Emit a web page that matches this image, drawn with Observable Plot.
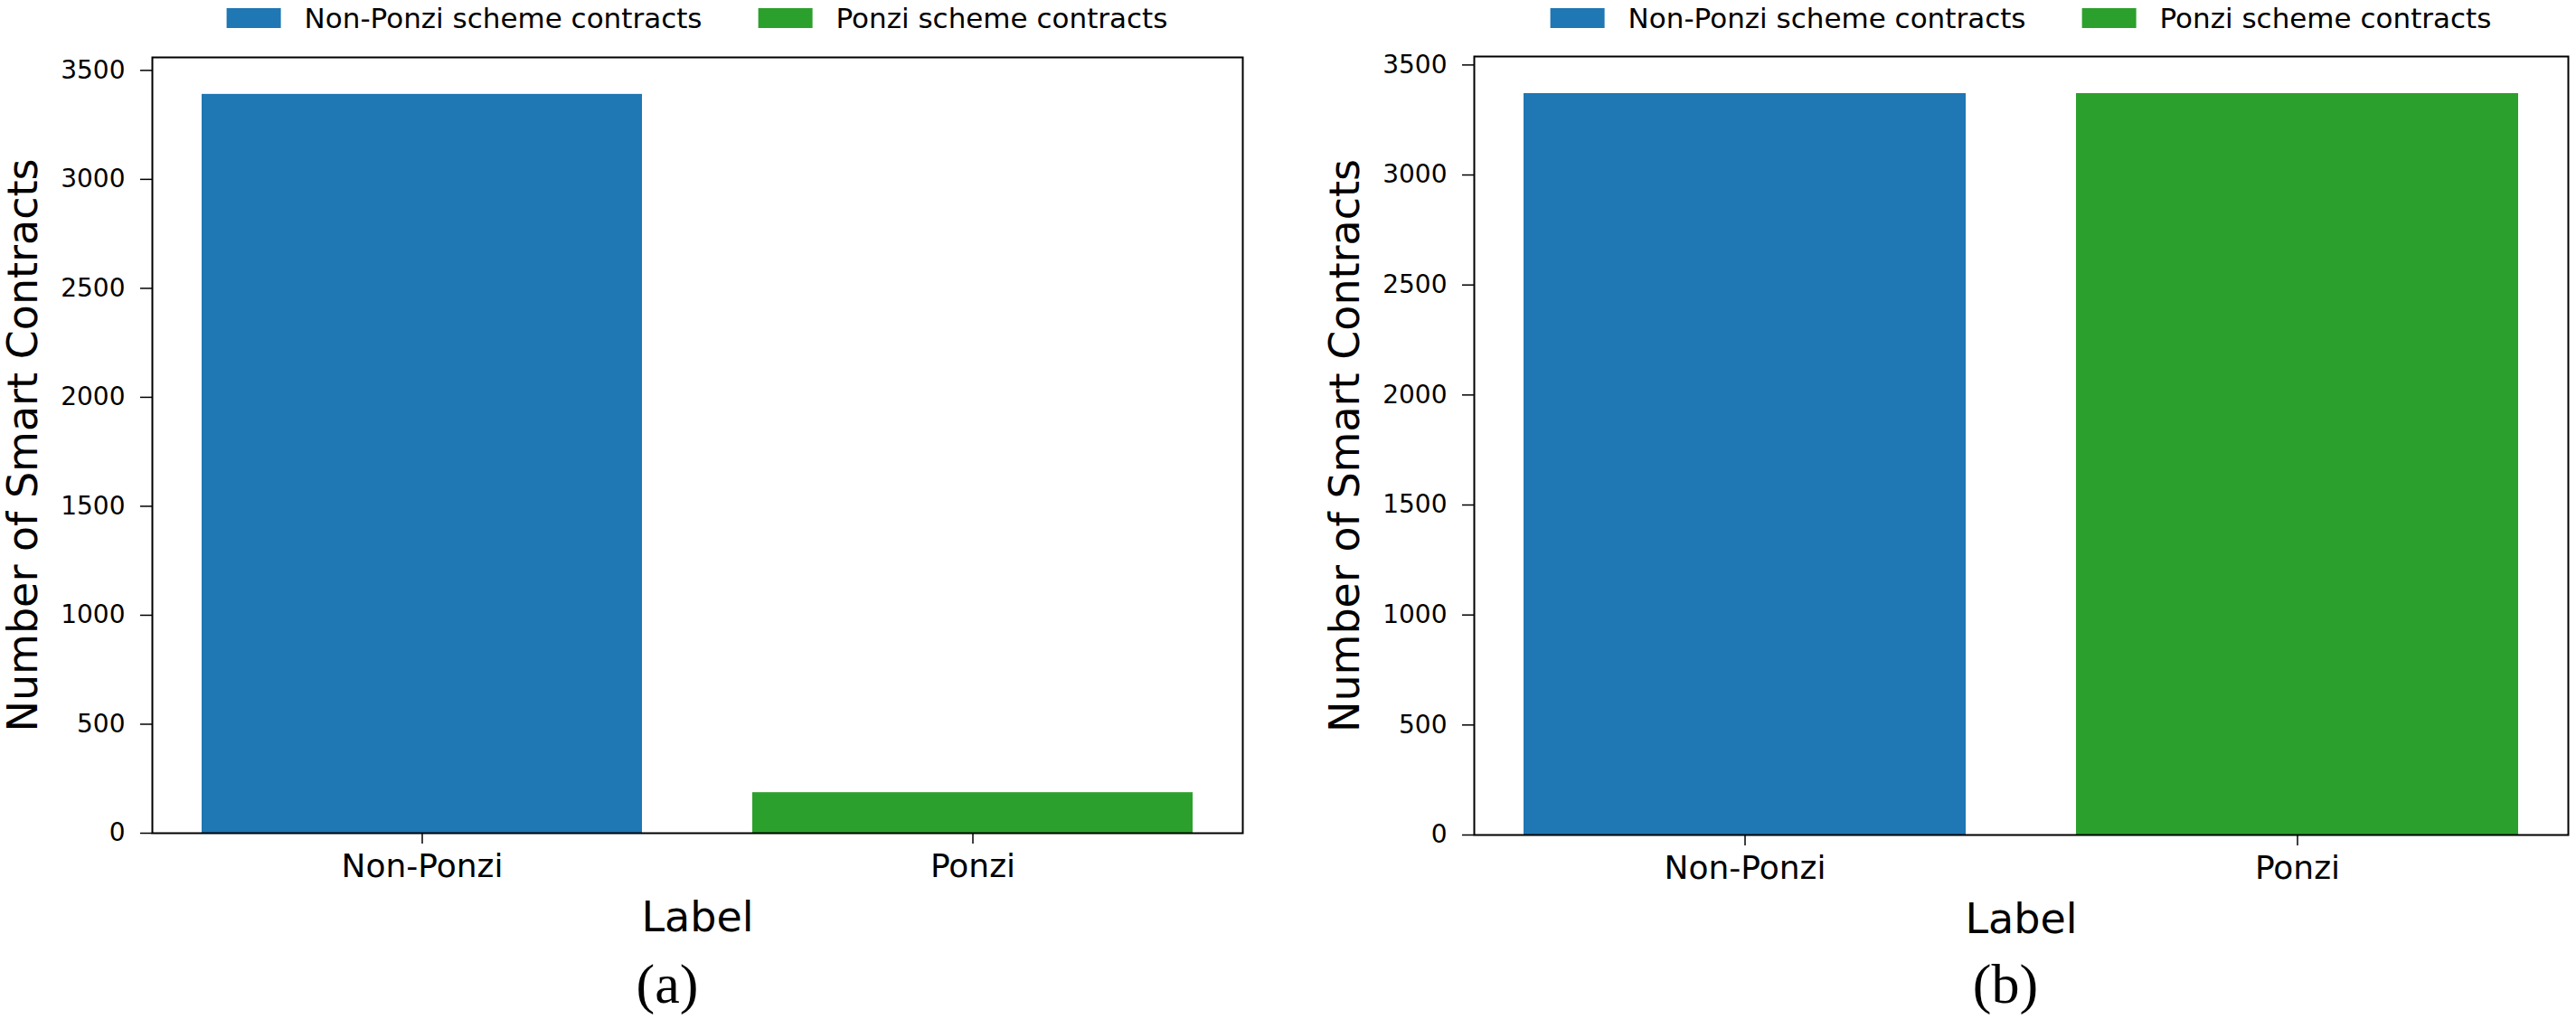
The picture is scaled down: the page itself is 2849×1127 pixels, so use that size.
<!DOCTYPE html>
<html>
<head>
<meta charset="utf-8">
<script src="https://cdn.jsdelivr.net/npm/d3@7"></script>
<script src="https://cdn.jsdelivr.net/npm/@observablehq/plot@0.6"></script>
<style>
  html, body { margin: 0; padding: 0; background: #fff; }
  body { width: 2849px; height: 1127px; position: relative; overflow: hidden; font-family: "DejaVu Sans", sans-serif; }
  .panel { position: absolute; top: 0; height: 1127px; }
  .legend { position: absolute; top: 5px; transform: translateX(-50%); display: flex; align-items: center; white-space: nowrap; font-size: 31px; line-height: 30px; color: #000; }
  .legend .item { display: flex; align-items: center; }
  .legend .item + .item { margin-left: 62px; }
  .legend .sw { width: 60px; height: 22px; margin-right: 26px; }
  .chart { position: absolute; left: 0; top: 40px; }
  .caption { position: absolute; top: 1057px; transform: translateX(-50%); font-family: "Liberation Serif", "Times New Roman", serif; font-size: 62px; line-height: 62px; color: #000; }
</style>
</head>
<body>
<script>
// ---- data ----
const categories = ["Non-Ponzi", "Ponzi"];
const countsA = [3390, 186];          // (a) original dataset
const countsB = [3370, 3370];         // (b) balanced dataset
const colors = ["#1f77b4", "#2ca02c"];
const legendLabels = ["Non-Ponzi scheme contracts", "Ponzi scheme contracts"];
const yTicks = [0, 500, 1000, 1500, 2000, 2500, 3000, 3500];
const xAxisLabel = "Label";
const yAxisLabel = "Number of Smart Contracts";
const captions = ["(a)", "(b)"];

const panels = [
  {counts: countsA, caption: captions[0], left: 0, width: 1420, mLeft: 168, mRight: 46, mTop: 23, mBottom: 124, captionX: 738},
  {counts: countsB, caption: captions[1], left: 1420, width: 1429, mLeft: 210, mRight: 9, mTop: 22, mBottom: 122, captionX: 798}
];

const svgHeight = 1005;

for (const p of panels) {
  const data = categories.map((c, i) => ({label: c, count: p.counts[i], color: colors[i]}));
  const ymax = d3.max(p.counts) * 1.05;

  const div = document.createElement("div");
  div.className = "panel";
  div.style.left = p.left + "px";
  div.style.width = p.width + "px";

  const frameCenter = p.mLeft + (p.width - p.mLeft - p.mRight) / 2;

  // legend
  const leg = document.createElement("div");
  leg.className = "legend";
  leg.style.left = frameCenter + "px";
  legendLabels.forEach((t, i) => {
    const it = document.createElement("div");
    it.className = "item";
    const sw = document.createElement("div");
    sw.className = "sw";
    sw.style.background = colors[i];
    const tx = document.createElement("span");
    tx.textContent = t;
    it.appendChild(sw);
    it.appendChild(tx);
    leg.appendChild(it);
  });
  div.appendChild(leg);

  const chart = Plot.plot({
    width: p.width,
    height: svgHeight,
    marginLeft: p.mLeft,
    marginRight: p.mRight,
    marginTop: p.mTop,
    marginBottom: p.mBottom,
    style: {fontFamily: "DejaVu Sans, sans-serif", color: "#000", background: "transparent", overflow: "visible"},
    x: {type: "band", domain: categories, paddingInner: 0.2, paddingOuter: 0.09, label: null},
    y: {domain: [0, ymax], label: null},
    marks: [
      Plot.barY(data, {x: "label", y: "count", fill: "color", inset: 0}),
      Plot.axisY({ticks: yTicks, tickFormat: d3.format("d"), tickSize: 13, tickPadding: 17, fontSize: 28, label: null, stroke: "#000", strokeWidth: 1.5}),
      Plot.axisX({tickSize: 12, tickPadding: 11, fontSize: 36, label: null, stroke: "#000", strokeWidth: 1.5}),
      Plot.frame({stroke: "#000", strokeWidth: 2}),
      Plot.text([yAxisLabel], {frameAnchor: "left", textAnchor: "middle", lineAnchor: "middle", rotate: -90, dx: -142, fontSize: 46, fill: "#000"}),
      Plot.text([xAxisLabel], {frameAnchor: "bottom", textAnchor: "middle", lineAnchor: "middle", dy: 94, fontSize: 46, fill: "#000"})
    ]
  });
  chart.classList.add("chart");
  div.appendChild(chart);

  const cap = document.createElement("div");
  cap.className = "caption";
  cap.style.left = p.captionX + "px";
  cap.textContent = p.caption;
  div.appendChild(cap);

  document.body.appendChild(div);
}
</script>
</body>
</html>
